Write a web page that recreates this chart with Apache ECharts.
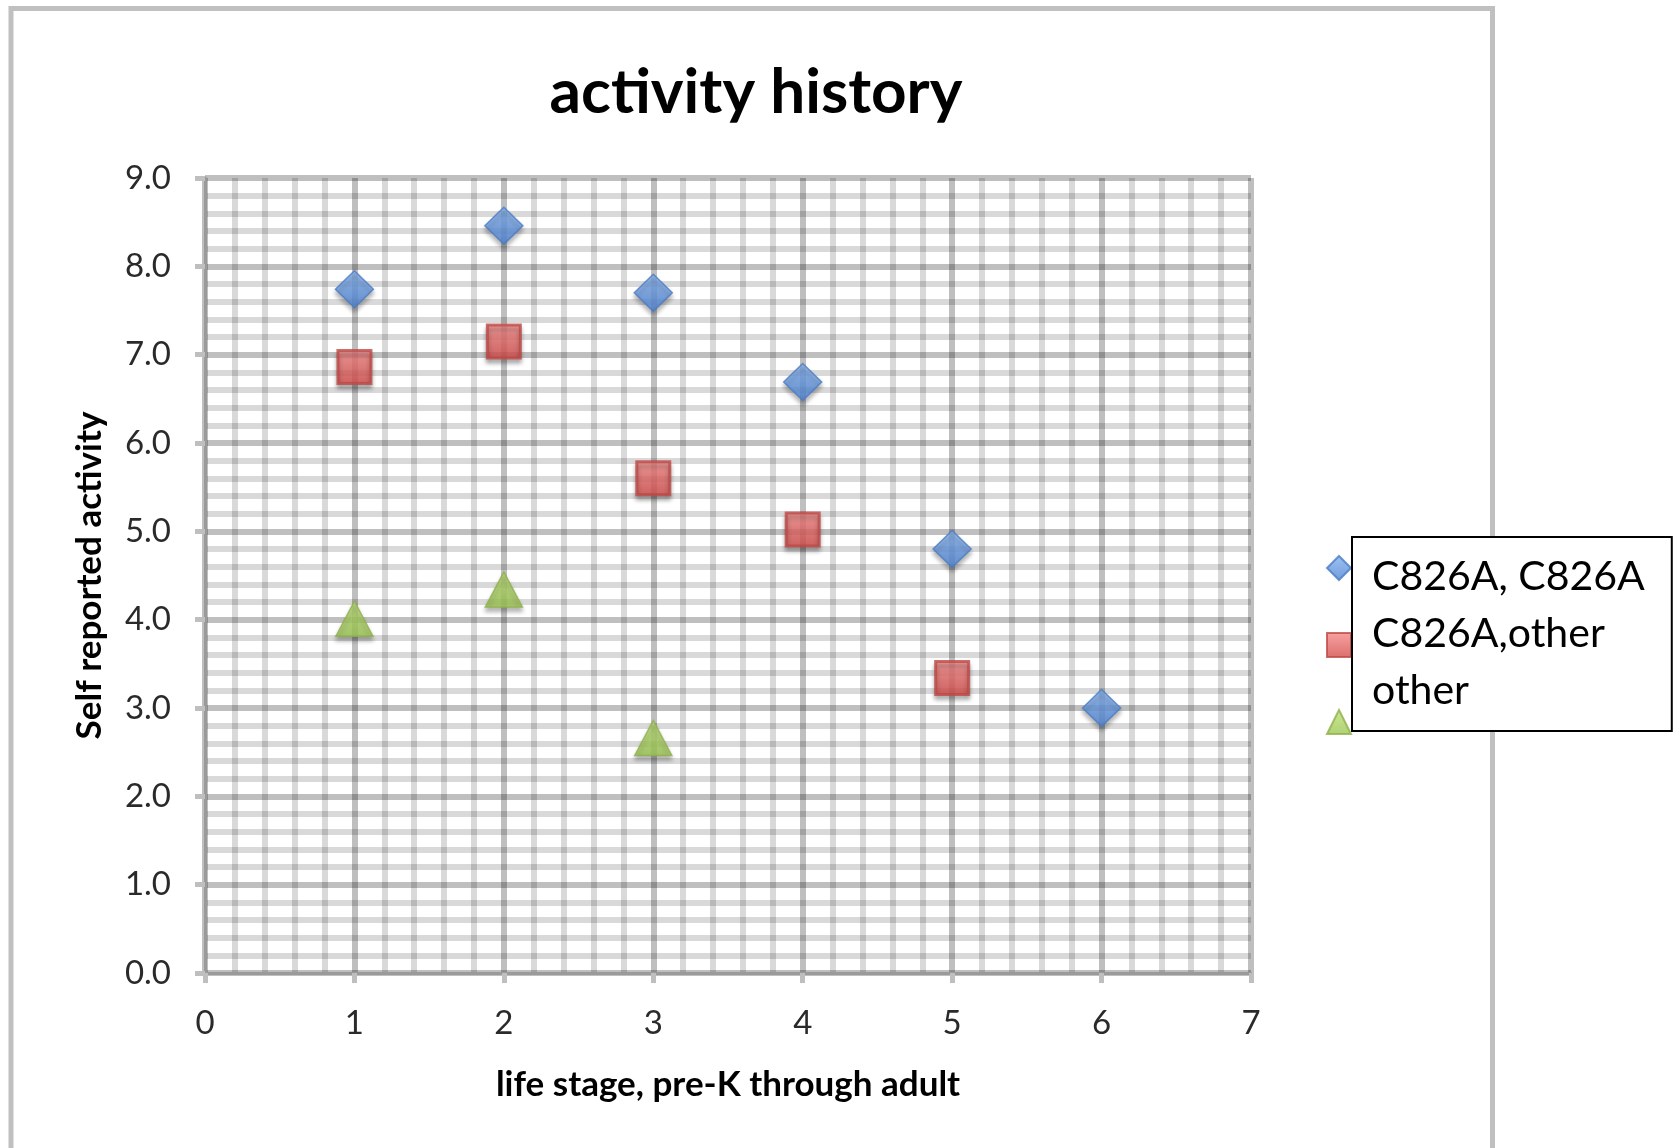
<!DOCTYPE html>
<html><head><meta charset="utf-8">
<script src="https://cdn.jsdelivr.net/npm/echarts@6/dist/echarts.min.js"></script>
<style>html,body{margin:0;padding:0;background:#fff}#c{width:1677px;height:1148px}</style>
</head><body><div id="c"></div><script>
// ---- data ----
const chartTitle = 'activity history';
const xName = 'life stage, pre-K through adult';
const yName = 'Self reported activity';
const seriesNames = ['C826A, C826A', 'C826A,other', 'other'];
const stagesA = [1, 2, 3, 4, 5, 6];
const valuesA = [7.74, 8.46, 7.70, 6.69, 4.80, 3.00];
const stagesB = [1, 2, 3, 4, 5];
const valuesB = [6.86, 7.15, 5.60, 5.02, 3.34];
const stagesC = [1, 2, 3];
const valuesC = [4.01, 4.34, 2.66];
const xRange = [0, 7];
const yRange = [0, 9];

const FONT = 'Lato, "Open Sans", "Liberation Sans", sans-serif';
const pairs = (xs, ys) => xs.map((x, i) => [x, ys[i]]);
const grad = (a, b) => new echarts.graphic.LinearGradient(0, 0, 0, 1, [{offset: 0, color: a}, {offset: 1, color: b}]);
const shadow = {shadowBlur: 4, shadowOffsetY: 4, shadowColor: 'rgba(0,0,0,0.35)'};

const styles = [
  {symbol: 'diamond', size: [38, 37], itemStyle: Object.assign({color: grad('#86b3ef', '#4d82d2'), borderColor: '#4a7cc4', borderWidth: 1.5}, shadow)},
  {symbol: 'rect', size: [33, 33], itemStyle: Object.assign({color: grad('#f68c8a', '#d24a48'), borderColor: '#bd4946', borderWidth: 3}, shadow)},
  {symbol: 'triangle', size: [37, 35], itemStyle: Object.assign({color: grad('#bee276', '#9cc552'), borderColor: '#8eb04a', borderWidth: 1.5}, shadow)}
];
const dataSets = [pairs(stagesA, valuesA), pairs(stagesB, valuesB), pairs(stagesC, valuesC)];

const chart = echarts.init(document.getElementById('c'));
const axisCommon = {
  axisLine: {show: true, onZero: false, lineStyle: {color: '#9a9a9a', width: 3}},
  axisTick: {show: true, length: 10, lineStyle: {color: '#bfbfbf', width: 5}},
  splitLine: {show: true, lineStyle: {color: 'rgba(0,0,0,0.25)', width: 6}},
  minorTick: {show: false, splitNumber: 5},
  minorSplitLine: {show: true, lineStyle: {color: 'rgba(0,0,0,0.15)', width: 6}},
  nameLocation: 'middle',
  nameTextStyle: {fontFamily: FONT, fontWeight: 'bold', fontSize: 35, color: '#000'}
};
chart.setOption({
  animation: false,
  backgroundColor: '#fff',
  title: {text: chartTitle, left: 751, textAlign: 'center', top: 57,
    textStyle: {fontFamily: FONT, fontWeight: 'bold', fontSize: 62, color: '#000'}},
  grid: {left: 205, right: 426, top: 178, bottom: 175, containLabel: false, outerBoundsMode: 'none'},
  xAxis: Object.assign({}, axisCommon, {
    type: 'value', min: xRange[0], max: xRange[1], interval: 1,
    axisLabel: {fontFamily: FONT, fontSize: 33, color: '#2a2a2a', margin: 34},
    name: xName, nameGap: 94
  }),
  yAxis: Object.assign({}, axisCommon, {
    type: 'value', min: yRange[0], max: yRange[1], interval: 1,
    axisLabel: {fontFamily: FONT, fontSize: 33, color: '#2a2a2a', margin: 34, formatter: v => v.toFixed(1)},
    name: yName, nameGap: 98
  }),
  legend: [
    {orient: 'vertical', left: 1326, top: 555, itemWidth: 24, itemHeight: 24, itemGap: 51, padding: 0,
     selectedMode: false, formatter: () => '', textStyle: {color: 'transparent'}, z: 4,
     data: seriesNames.map((n, i) => ({name: n, icon: styles[i].symbol}))},
    {orient: 'vertical', left: 1352, top: 537, itemWidth: 0, itemHeight: 0, itemGap: 0,
     padding: [11, 27, 12, 15], backgroundColor: '#fff', borderColor: '#000', borderWidth: 2,
     selectedMode: false, z: 6,
     textStyle: {fontFamily: FONT, fontSize: 41, color: '#000', lineHeight: 57},
     data: seriesNames.map(n => ({name: n, icon: 'none'}))}
  ],
  graphic: [{type: 'rect', silent: true, z: -10,
    shape: {x: 11, y: 8.5, width: 1481.5, height: 1300},
    style: {fill: null, stroke: '#c0c0c0', lineWidth: 5}}],
  series: seriesNames.map((n, i) => ({
    type: 'scatter', name: n, data: dataSets[i],
    symbol: styles[i].symbol, symbolSize: styles[i].size,
    itemStyle: styles[i].itemStyle, z: 3 + i
  }))
});
</script></body></html>
